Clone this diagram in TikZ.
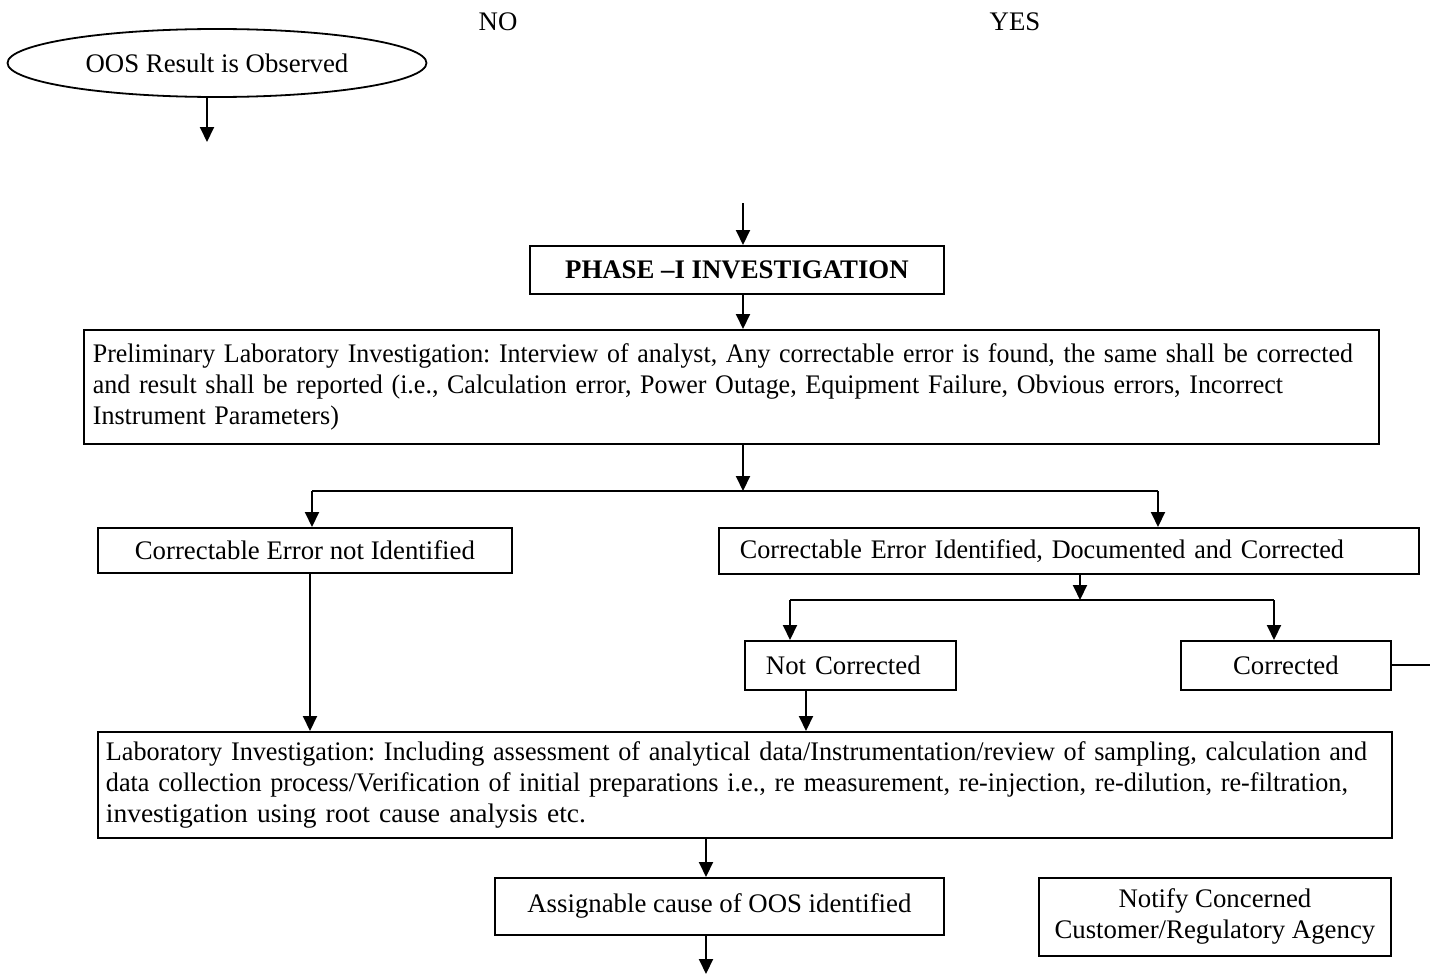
\documentclass[tikz,border=0pt]{standalone}
\usepackage{graphicx}
\usepackage{fontspec}
\setmainfont{Liberation Serif}
\usetikzlibrary{shapes.geometric,arrows.meta,calc}
\newcommand\fitline[2]{\resizebox{#1pt}{\height}{\mbox{#2}}}
\tikzset{
  txt/.style={font=\fontsize{26.8}{31}\selectfont, inner sep=0pt},
  box/.style={draw, line width=1.8pt, font=\fontsize{26.8}{31}\selectfont\frenchspacing, anchor=north west, inner sep=0pt},
  arr/.style={line width=2pt, -{Triangle[length=15pt,width=14pt]}},
  ln/.style={line width=2pt},
}
\begin{document}
\begin{tikzpicture}[x=1pt,y=-1pt]
\useasboundingbox (0,0) rectangle (1430,974);
\node[txt] (no) at (498,22) {NO};
\node[txt] (yes) at (1015,22) {YES};
\node[draw, ellipse, line width=1.8pt, minimum width=419, minimum height=68, inner sep=0pt, font=\fontsize{26.8}{31}\selectfont] (oos) at (217,63) {OOS Result is Observed};
\coordinate (e1) at (207,142);
\draw[arr] (oos.south -| e1) -- (e1);

\node[box, minimum width=414, minimum height=48, font=\fontsize{26.8}{31}\selectfont\bfseries] (phase) at (529,245) {PHASE --I INVESTIGATION};
\coordinate (t1) at (743,203);
\draw[arr] (t1) -- (t1 |- phase.north);

\node[box, text width=1277, inner xsep=9, minimum height=114, align=left] (prelim) at (83,329) {\fitline{1260}{Preliminary Laboratory Investigation: Interview of analyst, Any correctable error is found, the same shall be corrected}\\\fitline{1190}{and result shall be reported (i.e., Calculation error, Power Outage, Equipment Failure, Obvious errors, Incorrect}\\\fitline{246}{Instrument Parameters)}};
\draw[arr] (t1 |- phase.south) -- (t1 |- prelim.north);

\coordinate (jl) at (312,491);
\coordinate (jr) at (1158,491);
\node[box, minimum width=414, minimum height=45] (cnot) at (97,527) {Correctable Error not Identified};
\node[box, text width=658, inner xsep=21, minimum height=46, align=left] (cid) at (718,527) {\fitline{604}{Correctable Error Identified, Documented and Corrected}};
\draw[arr] (t1 |- prelim.south) -- (t1 |- jl);
\draw[ln] (jl) -- (jr);
\draw[arr] (jl) -- (jl |- cnot.north);
\draw[arr] (jr) -- (jr |- cid.north);

\coordinate (km) at (1080,600);
\coordinate (kl) at (790,600);
\coordinate (kr) at (1274,600);
\node[box, text width=169, inner xsep=21, minimum height=49, align=left] (nc) at (744,640) {\mbox{Not Corrected}};
\node[box, minimum width=210, minimum height=49] (corr) at (1180,640) {Corrected};
\draw[arr] (km |- cid.south) -- (km);
\draw[ln] (kl) -- (kr);
\draw[arr] (kl) -- (kl |- nc.north);
\draw[arr] (kr) -- (kr |- corr.north);
\coordinate (rend) at (1430,667);
\draw[ln] (corr.east) -- (corr.east -| rend);

\node[box, text width=1278, inner xsep=8, minimum height=106, align=left] (lab) at (97,731) {\fitline{1261}{Laboratory Investigation: Including assessment of analytical data/Instrumentation/review of sampling, calculation and}\\\fitline{1242}{data collection process/Verification of initial preparations i.e., re measurement, re-injection, re-dilution, re-filtration,}\\\fitline{480}{investigation using root cause analysis etc.}};
\coordinate (v1) at (310,0);
\coordinate (v2) at (806,0);
\draw[arr] (v1 |- cnot.south) -- (v1 |- lab.north);
\draw[arr] (v2 |- nc.south) -- (v2 |- lab.north);

\node[box, minimum width=449, minimum height=57] (asg) at (494,877) {Assignable cause of OOS identified};
\node[box, minimum width=352, minimum height=78, align=center] (notify) at (1038,877) {Notify Concerned\\Customer/Regulatory Agency};
\coordinate (v3) at (706,974);
\draw[arr] (v3 |- lab.south) -- (v3 |- asg.north);
\draw[arr] (v3 |- asg.south) -- (v3);
\end{tikzpicture}
\end{document}
